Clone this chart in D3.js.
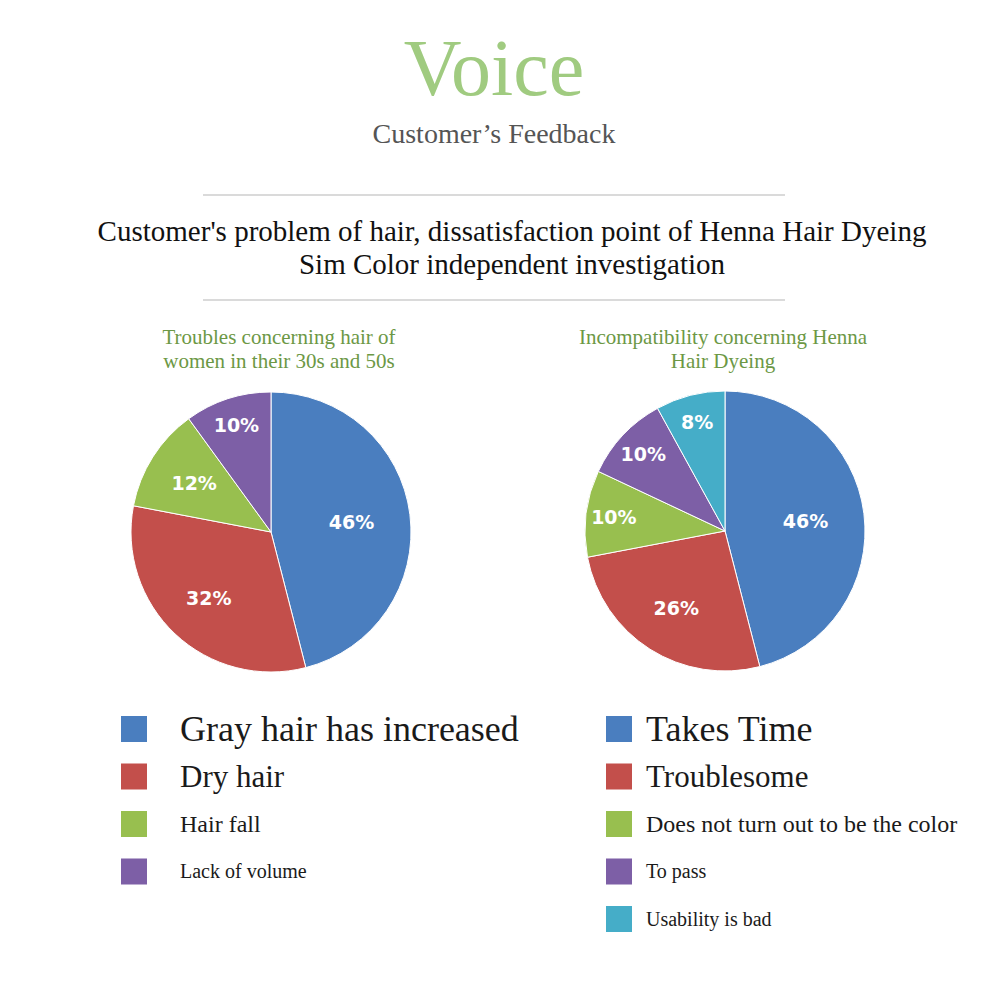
<!DOCTYPE html>
<html>
<head>
<meta charset="utf-8">
<script src="https://cdn.jsdelivr.net/npm/d3@7"></script>
<style>
  body { margin: 0; background: #fff; }
</style>
</head>
<body>
<div id="chart"></div>
<script>
// chart data
const leftCategories = ['Gray hair has increased', 'Dry hair', 'Hair fall', 'Lack of volume'];
const leftValues = [46, 32, 12, 10];
const rightCategories = ['Takes Time', 'Troublesome', 'Does not turn out to be the color', 'To pass', 'Usability is bad'];
const rightValues = [46, 26, 10, 10, 8];
const leftTitle = ['Troubles concerning hair of', 'women in their 30s and 50s'];
const rightTitle = ['Incompatibility concerning Henna', 'Hair Dyeing'];
const headingLines = ["Customer's problem of hair, dissatisfaction point of Henna Hair Dyeing",
                      'Sim Color independent investigation'];

// styles
const sliceColors = ['#4a7ebf', '#c34f4b', '#98bf4f', '#7d5fa6', '#45adc8'];
const legendFontSizes = [36, 31, 24, 20, 20];
const serif = '"Liberation Serif", "Times New Roman", serif';

const width = 1000, height = 1000, radius = 140;

const svg = d3.select('#chart').append('svg')
    .attr('width', width).attr('height', height);

// header
svg.append('text')
    .attr('x', 494).attr('y', 95)
    .attr('text-anchor', 'middle')
    .style('font-family', serif).style('font-size', '80px')
    .attr('fill', '#a0cb80')
    .text('Voice');

svg.append('text')
    .attr('x', 494).attr('y', 143)
    .attr('text-anchor', 'middle')
    .style('font-family', serif).style('font-size', '28px')
    .attr('fill', '#555')
    .text('Customer\u2019s Feedback');

svg.selectAll('line.rule')
    .data([195, 300])
    .join('line')
    .classed('rule', true)
    .attr('x1', 203).attr('x2', 785)
    .attr('y1', d => d).attr('y2', d => d)
    .attr('stroke', '#dadada').attr('stroke-width', 2);

svg.selectAll('text.heading')
    .data(headingLines)
    .join('text')
    .classed('heading', true)
    .attr('x', 512).attr('y', (d, i) => 241 + i * 33)
    .attr('text-anchor', 'middle')
    .style('font-family', serif).style('font-size', '29px')
    .attr('fill', '#111')
    .text(d => d);

function drawPie(cx, cy, values, categories, title, legendX, textOffset, titleX){

    const g = svg.append('g').attr('transform', `translate(${cx},${cy})`);
    const total = d3.sum(values);
    const pie = d3.pie().sort(null).value(d => d);
    const arc = d3.arc().innerRadius(0).outerRadius(radius);
    const arcs = pie(values);

    g.selectAll('path.slice')
        .data(arcs)
        .join('path')
        .classed('slice', true)
        .attr('d', arc)
        .attr('fill', (d, i) => sliceColors[i])
        .attr('stroke', '#fff').attr('stroke-width', 1);

    // label radius: small slices pushed outward, the large one nearer centre
    const labelR = v => v / total <= 0.1 ? radius * 0.8 : (v / total > 0.4 ? radius * 0.58 : radius * 0.65);

    g.selectAll('text.pct')
        .data(arcs)
        .join('text')
        .classed('pct', true)
        .attr('transform', d => {
            const r = labelR(d.value);
            const a = (d.startAngle + d.endAngle) / 2;
            return `translate(${r * Math.sin(a)},${-r * Math.cos(a)})`;
        })
        .attr('text-anchor', 'middle').attr('dy', '0.36em')
        .style('font-family', '"DejaVu Sans", Verdana, sans-serif')
        .style('font-size', '19px').style('font-weight', 'bold')
        .attr('fill', '#fff')
        .text(d => `${Math.round(d.value / total * 100)}%`);

    svg.selectAll(null)
        .data(title)
        .join('text')
        .attr('x', titleX).attr('y', (d, i) => 344 + i * 24)
        .attr('text-anchor', 'middle')
        .style('font-family', serif).style('font-size', '21px')
        .attr('fill', '#6c9845')
        .text(d => d);

    const legend = svg.append('g').attr('transform', `translate(${legendX},716)`);
    const rows = legend.selectAll('g')
        .data(categories)
        .join('g')
        .attr('transform', (d, i) => `translate(0,${i * 47.5})`);
    rows.append('rect')
        .attr('width', 26).attr('height', 26)
        .attr('fill', (d, i) => sliceColors[i]);
    rows.append('text')
        .attr('x', textOffset)
        .attr('y', (d, i) => 13 + legendFontSizes[i] * 0.33)
        .style('font-family', serif)
        .style('font-size', (d, i) => legendFontSizes[i] + 'px')
        .attr('fill', '#1a1a1a')
        .text(d => d);
}

drawPie(271, 532, leftValues, leftCategories, leftTitle, 121, 59, 279);
drawPie(725, 531, rightValues, rightCategories, rightTitle, 606, 40, 723);
</script>
</body>
</html>
